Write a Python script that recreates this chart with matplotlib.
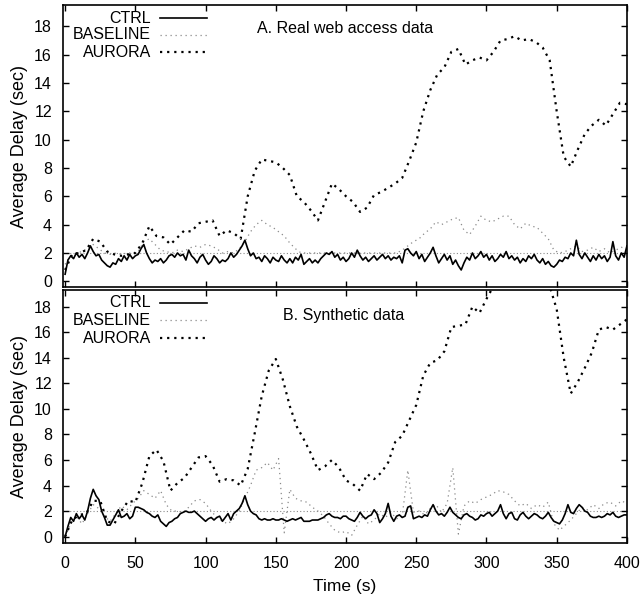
import numpy as np
import matplotlib
matplotlib.use("Agg")
import matplotlib.pyplot as plt
from matplotlib.lines import Line2D

plt.rcParams['font.family'] = ['Liberation Sans', 'DejaVu Sans']
plt.rcParams['font.size'] = 11.5

# ---- data ----
series_names = ['CTRL', 'BASELINE', 'AURORA']
panel_titles = ['A. Real web access data', 'B. Synthetic data']
target_delay = 2.0

# panel A, CTRL every 2 s
ctrl_a = [0.5, 1.5, 1.8, 1.6, 2.0, 1.7, 1.9, 1.6, 2.0, 2.5, 2.1, 1.8, 1.9, 1.5, 1.3, 1.1, 1.0, 1.3, 1.2, 1.6,
          1.4, 1.8, 1.5, 1.9, 1.6, 1.8, 1.9, 2.3, 2.6, 2.0, 1.6, 1.3, 1.5, 1.4, 1.6, 1.3, 1.5, 1.8, 1.9, 1.7,
          2.0, 1.8, 1.9, 1.5, 2.2, 1.8, 1.6, 1.3, 1.7, 1.9, 1.5, 1.2, 1.4, 1.8, 1.6, 1.3, 1.5, 1.4, 1.6, 2.0,
          1.7, 1.9, 2.2, 2.5, 2.9, 2.3, 1.8, 2.0, 1.6, 1.7, 1.4, 1.8, 1.6, 1.3, 1.7, 1.5, 1.4, 1.8, 1.5, 1.3,
          1.6, 1.3, 1.7, 1.5, 1.9, 1.2, 1.4, 1.6, 1.3, 1.5, 1.3, 1.6, 1.8, 2.0, 1.9, 2.1, 1.7, 1.9, 1.5, 1.7,
          1.4, 1.6, 2.0, 1.7, 2.2, 1.8, 1.5, 1.7, 1.4, 1.6, 1.8, 1.5, 1.7, 1.9, 1.6, 1.8, 1.5, 1.7, 1.6, 1.8,
          1.3, 2.2, 2.3, 2.0, 1.8, 2.1, 1.6, 1.9, 1.4, 1.7, 2.0, 2.4, 1.8, 1.3, 1.6, 1.9, 1.5, 1.8, 1.2, 1.5,
          1.1, 0.8, 1.3, 1.7, 1.5, 2.0, 1.6, 1.8, 2.1, 1.7, 1.9, 1.5, 1.8, 1.4, 1.6, 1.9, 1.7, 2.1, 1.6, 1.8,
          1.5, 1.7, 1.3, 1.6, 1.4, 1.8, 1.6, 1.9, 1.5, 1.3, 1.6, 1.2, 1.4, 1.1, 1.0, 1.2, 1.5, 1.4, 1.7, 1.6,
          2.0, 1.8, 2.9, 1.9, 1.6, 2.0, 1.7, 1.4, 1.8, 1.5, 1.9, 1.6, 1.8, 1.4, 1.7, 2.8, 1.8, 1.5, 2.0, 1.7,
          2.5]
# panel A, BASELINE every 4 s
base_a = [1.2, 1.8, 2.0, 2.1, 2.3, 2.6, 2.3, 2.0, 1.9, 2.0, 1.9, 2.0, 2.0, 2.1, 2.8, 3.0, 2.6, 2.2, 2.1, 2.0,
          2.2, 2.1, 2.3, 2.5, 2.4, 2.6, 2.5, 2.3, 2.0, 2.1, 2.0, 2.3, 2.8, 3.5, 4.0, 4.3, 4.0, 3.8, 3.5, 3.2,
          2.7, 2.3, 2.0, 2.0, 2.0, 2.0, 2.0, 2.0, 2.0, 2.0, 2.0, 2.0, 2.0, 2.0, 2.0, 2.0, 2.0, 2.0, 2.0, 2.0,
          2.2, 2.5, 2.8, 3.0, 3.4, 3.7, 4.2, 4.0, 4.2, 4.4, 4.5, 3.6, 3.3, 3.9, 4.6, 4.3, 4.2, 4.4, 4.6, 4.6,
          4.0, 3.7, 4.1, 3.9, 3.8, 3.4, 3.0, 2.2, 2.0, 2.1, 2.3, 2.5, 2.1, 2.2, 2.4, 2.1, 2.3, 2.0, 2.2, 2.4,
          2.3]
# panel A, AURORA every 5 s
aurora_a = [0.8, 1.9, 2.0, 2.2, 3.0, 2.8, 2.1, 1.9, 1.8, 1.9, 2.0, 2.7, 3.9, 3.2, 3.1, 2.6, 3.1, 3.6, 3.5, 4.1,
            4.2, 4.3, 3.2, 3.6, 3.4, 3.0, 6.0, 7.8, 8.6, 8.5, 8.4, 8.0, 7.5, 6.0, 5.6, 5.0, 4.3, 5.6, 6.9, 6.5,
            6.0, 5.6, 4.9, 5.2, 6.1, 6.3, 6.6, 6.9, 7.3, 8.5, 9.8, 12.0, 13.5, 14.6, 15.1, 16.2, 16.4, 15.3, 15.6, 15.8,
            15.6, 16.2, 17.0, 17.1, 17.3, 17.0, 17.1, 16.9, 16.5, 15.6, 12.0, 8.8, 8.1, 9.3, 10.4, 11.0, 11.4, 11.0, 11.8, 12.6,
            12.5]

# panel B, CTRL every 2 s
ctrl_b = [0.0, 0.8, 1.5, 1.2, 1.8, 1.4, 1.7, 1.3, 2.0, 3.0, 3.7, 3.2, 2.9, 2.0, 1.5, 0.9, 0.9, 1.3, 1.7, 2.1,
          1.5, 1.6, 1.8, 1.4, 1.6, 2.3, 2.3, 2.2, 2.1, 1.9, 1.8, 1.6, 1.5, 1.7, 1.2, 1.0, 0.8, 1.1, 1.2, 1.4,
          1.5, 1.8, 1.9, 2.0, 1.9, 1.9, 2.0, 1.8, 1.6, 1.4, 1.2, 1.4, 1.5, 1.3, 1.5, 1.6, 1.2, 1.5, 1.8, 1.3,
          1.8, 2.0, 2.2, 2.6, 3.2, 2.5, 2.0, 1.8, 1.7, 1.4, 1.3, 1.4, 1.3, 1.3, 1.4, 1.3, 1.3, 1.4, 1.3, 1.2,
          1.3, 1.4, 1.3, 1.4, 1.5, 1.2, 1.2, 1.2, 1.3, 1.3, 1.3, 1.4, 1.5, 1.7, 1.8, 1.6, 1.5, 1.5, 1.4, 1.6,
          1.6, 1.4, 1.3, 1.2, 1.5, 1.9, 1.6, 1.4, 1.6, 1.7, 2.1, 1.8, 1.1, 1.4, 1.8, 2.6, 1.6, 1.2, 1.6, 1.7,
          1.5, 1.6, 2.3, 2.4, 1.4, 1.5, 1.6, 1.5, 1.7, 1.6, 2.1, 2.5, 2.0, 1.7, 1.8, 1.6, 1.9, 2.3, 1.9, 1.7,
          1.5, 1.4, 1.7, 1.8, 1.6, 1.5, 1.3, 1.4, 1.7, 1.6, 1.8, 1.9, 1.6, 1.8, 2.0, 2.5, 1.8, 1.4, 1.8, 1.9,
          1.4, 1.3, 1.7, 1.9, 1.6, 1.4, 1.6, 1.8, 1.7, 1.5, 1.4, 1.6, 1.9, 1.5, 1.2, 1.1, 1.0, 1.3, 1.8, 2.5,
          1.9, 1.8, 2.2, 2.5, 2.3, 2.0, 1.9, 1.6, 1.5, 1.5, 1.6, 1.5, 1.6, 1.8, 1.7, 1.9, 1.6, 1.5, 1.6, 1.7,
          1.7]
# panel B, BASELINE every 4 s
base_b = [0.0, 1.0, 1.6, 1.0, 1.8, 2.5, 2.2, 1.6, 1.2, 1.8, 2.4, 2.1, 2.6, 3.0, 3.6, 3.3, 3.0, 3.6, 2.5, 2.0,
          2.0, 1.9, 2.3, 2.8, 2.9, 2.6, 2.0, 1.5, 1.2, 1.0, 1.4, 2.0, 3.0, 4.0, 5.2, 5.4, 5.8, 5.2, 6.1, 0.3,
          3.7, 3.0, 2.8, 2.7, 2.3, 2.0, 1.6, 1.0, 0.5, 0.3, 0.4, 0.1, 0.9, 1.6, 1.0, 1.3, 1.8, 1.5, 1.9, 1.4,
          1.6, 5.2, 1.9, 2.0, 1.7, 2.2, 2.5, 1.9, 2.6, 5.4, 0.2, 2.4, 2.8, 2.6, 2.9, 3.1, 3.3, 3.6, 3.5, 3.3,
          2.8, 2.4, 2.6, 2.2, 2.5, 2.3, 2.7, 1.0, 0.5, 0.9, 1.3, 1.8, 2.3, 2.1, 2.5, 2.2, 2.6, 2.7, 2.4, 2.8,
          2.6]
# panel B, AURORA every 5 s
aurora_b = [0.0, 1.3, 1.7, 1.8, 2.8, 2.8, 1.2, 1.0, 2.0, 2.8, 2.7, 4.2, 6.3, 6.8, 5.9, 3.6, 4.2, 4.6, 5.4, 6.2,
            6.3, 5.6, 4.3, 4.5, 4.4, 4.0, 5.3, 8.1, 11.0, 13.0, 13.9, 12.3, 10.2, 8.6, 7.6, 6.5, 5.2, 5.5, 6.0, 5.4,
            4.4, 4.1, 3.6, 4.9, 4.5, 5.0, 5.8, 7.4, 7.9, 9.1, 10.3, 12.6, 13.6, 13.8, 14.5, 16.4, 16.5, 16.6, 18.0, 17.5,
            18.6, 19.6, 20.5, 21.2, 21.6, 21.8, 21.6, 21.0, 20.3, 19.6, 17.8, 14.0, 11.2, 12.1, 13.2, 14.4, 16.2, 16.4, 16.2, 16.6,
            17.0]

panels = [(ctrl_a, base_a, aurora_a), (ctrl_b, base_b, aurora_b)]

# ---- styles ----
styles = {
    'CTRL': dict(color='black', lw=1.2, ls='-'),
    'BASELINE': dict(color='#8a8a8a', lw=0.9, ls=(0, (1, 3))),
    'AURORA': dict(color='black', lw=1.6, ls=(0, (1, 2.2))),
}

fig = plt.figure(figsize=(6.43, 5.96), dpi=100)
ax_top = fig.add_axes([0.098, 0.5185, 0.877, 0.473])
ax_bot = fig.add_axes([0.098, 0.0889, 0.877, 0.4245])
axes = [ax_top, ax_bot]
ylims = [(-0.4, 19.5), (-0.5, 19.3)]
legend_rows = [(0.954, 0.894, 0.833), (0.949, 0.880, 0.810)]
title_pos = [(0.344, 0.918), (0.39, 0.901)]

for i, ax in enumerate(axes):
    ctrl, base, aurora = panels[i]
    t_ctrl = np.linspace(0, 400, len(ctrl))
    t_base = np.linspace(0, 400, len(base))
    t_aur = np.linspace(0, 400, len(aurora))

    ax.axhline(target_delay, color='#8a8a8a', lw=0.8, ls=(0, (1, 2)), zorder=1)
    ax.plot(t_base, base, zorder=2, **styles['BASELINE'])
    ax.plot(t_aur, aurora, zorder=3, **styles['AURORA'])
    ax.plot(t_ctrl, ctrl, zorder=4, **styles['CTRL'])

    ax.set_xlim(-1.5, 400)
    ax.set_ylim(*ylims[i])
    ax.set_xticks(np.arange(0, 401, 50))
    ax.set_yticks(np.arange(0, 19, 2))
    ax.tick_params(direction='in', top=True, right=True, length=4, width=1, labelsize=11.5)
    ax.tick_params(axis='y', pad=8)
    ax.tick_params(axis='x', pad=9)
    for s in ax.spines.values():
        s.set_linewidth(1.2)
    ax.set_ylabel('Average Delay (sec)', fontsize=13, labelpad=4)

    # gnuplot-like key: label right-aligned, sample to the right
    for name, yy in zip(series_names, legend_rows[i]):
        ax.text(0.156, yy, name, transform=ax.transAxes, ha='right', va='center', fontsize=11.5)
        ax.add_line(Line2D([0.172, 0.255], [yy, yy], transform=ax.transAxes, **styles[name]))

    tx, ty = title_pos[i]
    ax.text(tx, ty, panel_titles[i], transform=ax.transAxes, ha='left', va='center', fontsize=11.5)

ax_top.tick_params(labelbottom=False)
ax_bot.set_xlabel('Time (s)', fontsize=12.5, labelpad=6)

fig.savefig('out.png', dpi=100)
